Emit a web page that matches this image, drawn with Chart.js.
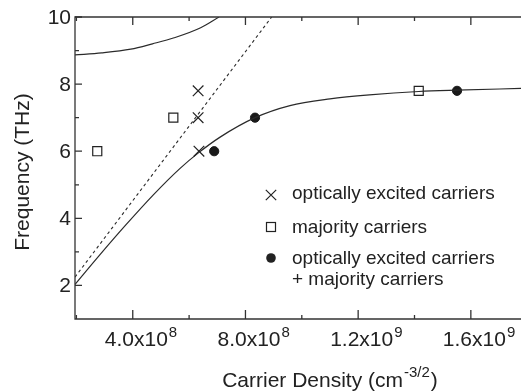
<!DOCTYPE html>
<html>
<head>
<meta charset="utf-8">
<script src="https://cdn.jsdelivr.net/npm/chart.js@4/dist/chart.umd.min.js"></script>
<style>
  html, body { margin: 0; padding: 0; background: #fff; overflow: hidden; }
  #wrap { width: 521px; height: 392px; position: relative; }
  #modeChart { display: block; }
</style>
</head>
<body>
<div id="wrap"><canvas id="modeChart"></canvas></div>
<script>
// coupled plasmon-phonon modes vs. carrier density
const upperX = [1.95e8, 2.9e8, 3.93e8, 4.7e8, 5.47e8, 6.41e8, 7.06e8];
const upperY = [8.87, 8.93, 9.04, 9.20, 9.38, 9.68, 10.0];

const lowerX = [1.95e8, 2.8e8, 3.73e8, 4.73e8, 5.68e8, 6.33e8, 7.1e8, 8.34e8, 9.58e8, 1.1e9, 1.24e9, 1.415e9, 1.55e9, 1.778e9];
const lowerY = [2.03, 2.88, 3.78, 4.70, 5.49, 5.95, 6.42, 7.0, 7.36, 7.56, 7.68, 7.78, 7.82, 7.87];

const plasmaX = [1.95e8, 8.93e8];
const plasmaY = [2.25, 10.0];

const opticalX = [6.32e8, 6.32e8, 6.35e8];
const opticalY = [7.8, 7.0, 6.0];
const majorityX = [2.74e8, 5.44e8, 1.415e9];
const majorityY = [6.0, 7.0, 7.8];
const bothX = [6.89e8, 8.34e8, 1.551e9];
const bothY = [6.0, 7.0, 7.8];

const xTicks = [4e8, 8e8, 1.2e9, 1.6e9];
const xTickMantissa = ['4.0', '8.0', '1.2', '1.6'];
const xTickExp = ['8', '8', '9', '9'];
const xMinorTicks = [2e8, 6e8, 1e9, 1.4e9];
const yTicks = [2, 4, 6, 8, 10];
const yMinorTicks = [3, 5, 7, 9];

const legendLabels = ['optically excited carriers', 'majority carriers', 'optically excited carriers', '+ majority carriers'];

const FONT = "'Liberation Sans', Arial, sans-serif";
const INK = '#222';

function pts(xs, ys) {
    return xs.map((x, i) => ({ x: x, y: ys[i] }));
}

function drawCross(ctx, x, y, r) {
    ctx.beginPath();
    ctx.moveTo(x - r, y - r); ctx.lineTo(x + r, y + r);
    ctx.moveTo(x + r, y - r); ctx.lineTo(x - r, y + r);
    ctx.stroke();
}

// axes frame, inward ticks, labels and the legend box
const framePlugin = {
    id: 'frame',
    afterDraw(chart) {
        const ctx = chart.ctx;
        const a = chart.chartArea;
        const xs = chart.scales.x, ys = chart.scales.y;
        ctx.save();
        ctx.strokeStyle = '#333';
        ctx.lineWidth = 1.3;
        ctx.beginPath();
        ctx.moveTo(a.right, a.top); ctx.lineTo(a.left, a.top);
        ctx.lineTo(a.left, a.bottom); ctx.lineTo(a.right, a.bottom);
        ctx.stroke();

        ctx.beginPath();
        xTicks.forEach(v => {
            const p = xs.getPixelForValue(v);
            ctx.moveTo(p, a.bottom); ctx.lineTo(p, a.bottom - 9);
            ctx.moveTo(p, a.top); ctx.lineTo(p, a.top + 8);
        });
        xMinorTicks.forEach(v => {
            const p = xs.getPixelForValue(v);
            ctx.moveTo(p, a.bottom); ctx.lineTo(p, a.bottom - 4);
            ctx.moveTo(p, a.top); ctx.lineTo(p, a.top + 4);
        });
        yTicks.forEach(v => {
            const p = ys.getPixelForValue(v);
            ctx.moveTo(a.left, p); ctx.lineTo(a.left + 7, p);
        });
        yMinorTicks.forEach(v => {
            const p = ys.getPixelForValue(v);
            ctx.moveTo(a.left, p); ctx.lineTo(a.left + 4, p);
        });
        ctx.stroke();

        ctx.fillStyle = INK;
        // y tick labels
        ctx.font = '21px ' + FONT;
        ctx.textAlign = 'right';
        ctx.textBaseline = 'middle';
        yTicks.forEach(v => {
            ctx.fillText(String(v), a.left - 4, ys.getPixelForValue(v) + 1);
        });

        // x tick labels with power of ten
        ctx.textAlign = 'left';
        ctx.textBaseline = 'alphabetic';
        xTicks.forEach((v, i) => {
            const p = xs.getPixelForValue(v);
            ctx.font = '21px ' + FONT;
            const main = xTickMantissa[i] + 'x10';
            const w = ctx.measureText(main).width;
            const x0 = p - 28;
            ctx.fillText(main, x0, a.bottom + 27);
            ctx.font = '15px ' + FONT;
            ctx.fillText(xTickExp[i], x0 + w + 1, a.bottom + 18);
        });

        // x axis title
        ctx.font = '21px ' + FONT;
        const t1 = 'Carrier Density (cm', sup = '-3/2', t2 = ')';
        const w1 = ctx.measureText(t1).width;
        const w2 = ctx.measureText(t2).width;
        ctx.font = '15px ' + FONT;
        const ws = ctx.measureText(sup).width;
        let tx = 329 - (w1 + ws + w2) / 2;
        ctx.font = '21px ' + FONT;
        ctx.fillText(t1, tx, 387);
        ctx.font = '15px ' + FONT;
        ctx.fillText(sup, tx + w1 + 1, 377);
        ctx.font = '21px ' + FONT;
        ctx.fillText(t2, tx + w1 + ws + 2, 387);

        // y axis title
        ctx.save();
        ctx.translate(23, 172);
        ctx.rotate(-Math.PI / 2);
        ctx.textAlign = 'center';
        ctx.textBaseline = 'middle';
        ctx.font = '21px ' + FONT;
        ctx.fillText('Frequency (THz)', 0, 0);
        ctx.restore();

        // legend
        const lx = 271, tx0 = 292;
        const rows = [193, 227, 258, 279];
        ctx.font = '19px ' + FONT;
        ctx.textBaseline = 'middle';
        ctx.textAlign = 'left';
        legendLabels.forEach((s, i) => ctx.fillText(s, tx0, rows[i] + 1));
        ctx.strokeStyle = INK;
        ctx.lineWidth = 1.2;
        drawCross(ctx, lx, rows[0] + 2, 5.2);
        ctx.strokeRect(lx - 4.5, rows[1] - 4.5, 9, 9);
        ctx.beginPath();
        ctx.arc(lx, rows[2], 4.8, 0, Math.PI * 2);
        ctx.fill();
        ctx.restore();
    }
};

const lineStyle = { borderColor: '#2a2a2a', borderWidth: 1.2, pointRadius: 0, showLine: true, fill: false, clip: 0, cubicInterpolationMode: 'monotone' };

new Chart(document.getElementById('modeChart'), {
    type: 'scatter',
    data: {
        datasets: [
            Object.assign({ label: 'upper branch', data: pts(upperX, upperY) }, lineStyle),
            Object.assign({ label: 'lower branch', data: pts(lowerX, lowerY) }, lineStyle),
            Object.assign({ label: 'plasma frequency', data: pts(plasmaX, plasmaY) }, lineStyle, { borderDash: [3, 3], borderWidth: 1.1 }),
            { label: legendLabels[0], data: pts(opticalX, opticalY), pointStyle: 'crossRot', pointRadius: 7.5, borderColor: INK, borderWidth: 1.2, clip: false },
            { label: legendLabels[1], data: pts(majorityX, majorityY), pointStyle: 'rect', pointRadius: 6.4, backgroundColor: '#fff', borderColor: INK, borderWidth: 1.2, clip: false },
            { label: legendLabels[2] + ' ' + legendLabels[3], data: pts(bothX, bothY), pointStyle: 'circle', pointRadius: 4.6, backgroundColor: '#1a1a1a', borderColor: '#1a1a1a', borderWidth: 1, clip: false }
        ]
    },
    options: {
        responsive: true,
        maintainAspectRatio: false,
        animation: false,
        layout: { autoPadding: false, padding: { left: 75, right: 0, top: 17, bottom: 73 } },
        scales: {
            x: { type: 'linear', min: 1.95e8, max: 1.778e9, display: false },
            y: { type: 'linear', min: 1, max: 10, display: false }
        },
        plugins: { legend: { display: false }, tooltip: { enabled: false } }
    },
    plugins: [framePlugin]
});
</script>
</body>
</html>
